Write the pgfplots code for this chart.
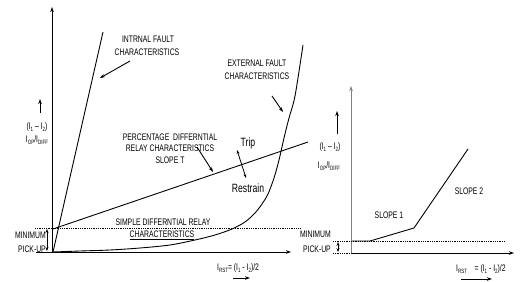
\documentclass[border=0pt]{standalone}
\usepackage{fontspec}
\setmainfont{Liberation Sans}
\newfontfamily\nf[FakeStretch=0.72]{Liberation Sans}
\usepackage{pgfplots}
\pgfplotsset{compat=1.18}
\usetikzlibrary{arrows.meta}
\newcommand{\lab}{\nf\fontsize{9.5bp}{11bp}\selectfont}
\newcommand{\biglab}{\nf\fontsize{12bp}{14bp}\selectfont}
\newcommand{\sbs}[1]{\raisebox{-0.4ex}{\fontsize{6.2bp}{7bp}\selectfont #1}}
\begin{document}
\begin{tikzpicture}
\begin{axis}[scale only axis, width=521bp, height=282bp,
  xmin=0, xmax=521, ymin=0, ymax=282, y dir=reverse,
  hide axis, clip=false,
  ln/.style={black, line width=0.9bp},
  ar/.style={black, line width=0.9bp, -{Stealth[length=5bp,width=3.5bp]}},
  dar/.style={black, line width=0.8bp, {Stealth[length=4bp,width=3bp]}-{Stealth[length=4bp,width=3bp]}},
  dt/.style={black, line width=0.8bp, dash pattern=on 0.9bp off 0.9bp}]
% bounding box
\addplot[draw=none] coordinates {(0,0) (521,282)};
% ---------- left panel ----------
\addplot[ar] coordinates {(52,252) (52,7)};
\addplot[ar] coordinates {(36,252) (291,252)};
\addplot[dt] coordinates {(35,228) (300,228)};
\addplot[ln] coordinates {(53,252) (103,32)};
\addplot[ln] coordinates {(53,229) (308,142)};
\addplot[ln, smooth, tension=0.5] coordinates {
 (53,252) (80,251) (110,250) (140,248) (170,245) (195,240) (215,235)
 (232,229) (245,222) (255,213) (262,204) (268,194) (274,178) (279,160)
 (284,138) (289,118) (295,96) (303,45)};
\addplot[ar] coordinates {(130,61) (100,78)};
\addplot[ar] coordinates {(272,96) (283,112)};
\addplot[ar] coordinates {(197,147) (213,172)};
\addplot[dar] coordinates {(237,150) (246,178)};
\addplot[dar] coordinates {(47,229) (47,251)};
\addplot[ar] coordinates {(40,113) (40,99)};
\addplot[ar] coordinates {(233,278) (250,278)};
\node[font=\lab] at (axis cs:148,39) {INTRNAL FAULT};
\node[font=\lab] at (axis cs:147,52) {CHARACTERISTICS};
\node[font=\lab] at (axis cs:257,63) {EXTERNAL FAULT};
\node[font=\lab] at (axis cs:257,76) {CHARACTERISTICS};
\node[font=\lab] at (axis cs:170,137) {PERCENTAGE\ \ DIFFERNTIAL};
\node[font=\lab] at (axis cs:170,148) {RELAY CHARACTERISTICS};
\node[font=\lab] at (axis cs:170,160) {SLOPE T};
\node[font=\biglab] at (axis cs:248,143) {Trip};
\node[font=\biglab] at (axis cs:248,188) {Restrain};
\node[font=\lab] at (axis cs:163,222) {SIMPLE DIFFERNTIAL RELAY};
\node[font=\lab] at (axis cs:162,235) {\underline{CHARACTERISTICS}};
\node[font=\lab, anchor=east, inner sep=0pt] at (axis cs:46,235) {MINIMUM};
\node[font=\lab, anchor=east, inner sep=0pt] at (axis cs:46,249) {PICK-UP};
\node[font=\lab] at (axis cs:37,127) {(I\sbs{1} – I\sbs{2})};
\node[font=\lab] at (axis cs:37,140) {I\sbs{OP}/I\sbs{DIFF}};
\node[font=\lab, anchor=west, inner sep=0pt] at (axis cs:217,268) {I\sbs{RST}= (I\sbs{1} - I\sbs{2})/2};
% ---------- right panel ----------
\addplot[gray, line width=0.9bp, -{Stealth[length=5bp,width=3.5bp]}] coordinates {(351,253) (351,86)};
\addplot[ar] coordinates {(352,253) (514,253)};
\addplot[dt] coordinates {(333,253) (352,253)};
\addplot[dt] coordinates {(333,241) (505,241)};
\addplot[ln] coordinates {(352,241) (370,241) (414,228) (468,149)};
\addplot[dar] coordinates {(338,242) (338,252)};
\addplot[ar] coordinates {(337,134) (337,111)};
\addplot[ar] coordinates {(461,279) (492,279)};
\node[font=\lab] at (axis cs:389,215) {SLOPE 1};
\node[font=\lab] at (axis cs:469,191) {SLOPE 2};
\node[font=\lab, anchor=east, inner sep=0pt] at (axis cs:331,234) {MINIMUM};
\node[font=\lab, anchor=east, inner sep=0pt] at (axis cs:331,249) {PICK-UP};
\node[font=\lab] at (axis cs:330,147) {(I\sbs{1} – I\sbs{2})};
\node[font=\lab] at (axis cs:329,166) {I\sbs{OP}/I\sbs{DIFF}};
\node[font=\lab, anchor=west, inner sep=0pt] at (axis cs:456,269) {I\sbs{RST}\ \ \ \ = (I\sbs{1} - I\sbs{2})/2};
\end{axis}
\end{tikzpicture}
\end{document}
